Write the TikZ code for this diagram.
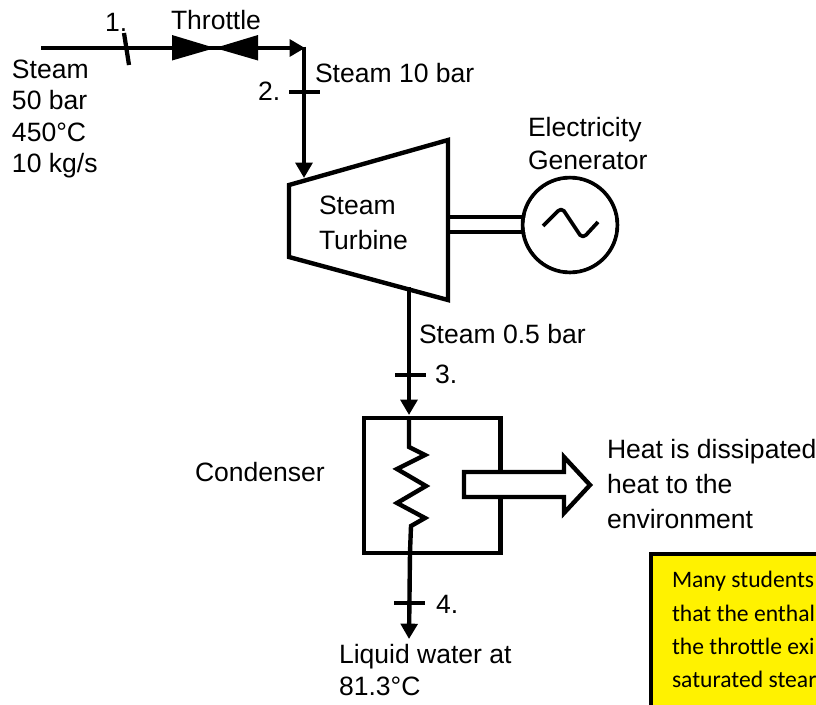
\documentclass[tikz,border=0pt]{standalone}
\usepackage{fontspec}
\setmainfont{Liberation Sans}
\newfontfamily\notefont{Carlito}
\usetikzlibrary{arrows.meta}
\tikzset{
  lbl/.style={anchor=base west,inner sep=0pt,outer sep=0pt,font=\fontsize{19.9}{24}\selectfont},
  note/.style={anchor=base west,inner sep=0pt,outer sep=0pt,font=\notefont\fontsize{17.7}{21}\selectfont},
  pipe/.style={line width=3.3pt,line join=miter},
  flow/.style={pipe,-{Triangle[length=11.5pt,width=12.5pt]}},
  tick/.style={line width=3.2pt},
  outline/.style={line width=3.3pt,line join=miter},
}
\begin{document}
\begin{tikzpicture}[x=0.75pt,y=-0.75pt]
\useasboundingbox (0,0) rectangle (816,704);
\clip (0,0) rectangle (816,704);
% named points
\coordinate (in) at (41,48);
\coordinate (corner) at (305,48);
\coordinate (vtop) at (304,46.5);
\coordinate (tin) at (304,178);
\coordinate (t1) at (289,185);
\coordinate (t2) at (448,140);
\coordinate (t3) at (448,300);
\coordinate (t4) at (289,257);
\coordinate (tout) at (409,287);
\coordinate (cin) at (409,415);
\coordinate (cout) at (410,552);
\coordinate (end) at (409,639);
% yellow note
\draw[line width=2.4pt,fill=yellow] (651,554) rectangle (830,720);
\node[note] (n1) at (672,587) {Many students};
\node[note] (n2) at (672,621) {that the enthal};
\node[note] (n3) at (672,654) {the throttle exi};
\node[note] (n4) at (672,687) {saturated stear};
% throttle line
\draw[flow] (in) -- (corner);
\draw[pipe] (vtop) -- (304,120);
\draw[flow] (304,100) -- (tin);
\fill (172,35) -- (215,48) -- (258,35) -- (258,60.5) -- (215,48) -- (172,60.5) -- cycle;
\draw[tick] (124,33) -- (129,65);
\draw[tick] (289,92) -- (320,92);
% turbine
\draw[outline] (t1) -- (t2) -- (t3) -- (t4) -- cycle;
% generator
\node[circle,draw,line width=2.9pt,minimum size=71pt,inner sep=0pt] (gen) at (570,225) {};
\draw[pipe] (448,217) -- (gen.center |- 0,217) ;
\draw[pipe] (448,232) -- (gen.center |- 0,232) ;
\node[circle,fill=white,minimum size=68pt,inner sep=0pt] at (gen.center) {};
\draw[line width=2.8pt,line join=round] (543,226) -- (558,211) .. controls (560,209) and (562,209) .. (564,211) -- (580,235) .. controls (582,237) and (584,237) .. (586,235) -- (598,222);
% turbine exit
\draw[flow] (tout) -- (cin);
\draw[tick] (395,375) -- (426,375);
% condenser
\node[draw,line width=3.3pt,minimum width=102.4pt,minimum height=101.2pt,inner sep=0pt] (cond) at (432.4,485.5) {};
\draw[line width=3.3pt,line join=miter] (409,416) -- (409,447) -- (425,455) -- (397,469) -- (426,486) -- (397,503) -- (425,518) -- (411,526) -- (cout);
\draw[flow] (cout) -- (end);
\draw[tick] (394,603) -- (425,603);
% heat arrow
\draw[outline,fill=white] (464,472) -- (564,472) -- (564,457) -- (590,485) -- (564,513) -- (564,497) -- (464,497) -- cycle;
% labels
\node[lbl] (a) at (105,31) {1.};
\node[lbl] (b) at (171,29) {Throttle};
\node[lbl] (c) at (12,78) {Steam};
\node[lbl] (d) at (12,109) {50 bar};
\node[lbl] (e) at (12,141) {450°C};
\node[lbl] (f) at (12,172) {10 kg/s};
\node[lbl] (g) at (258,100) {2.};
\node[lbl] (h) at (315,82) {Steam 10 bar};
\node[lbl] (i) at (528,136) {Electricity};
\node[lbl] (j) at (528,169) {Generator};
\node[lbl] (k) at (319,214) {Steam};
\node[lbl] (l) at (319,249) {Turbine};
\node[lbl] (m) at (419,343) {Steam 0.5 bar};
\node[lbl] (o) at (435,383) {3.};
\node[lbl] (p) at (195,481) {Condenser};
\node[lbl] (q) at (607,458) {Heat is dissipated};
\node[lbl] (r) at (607,493) {heat to the};
\node[lbl] (s) at (607,528) {environment};
\node[lbl] (t) at (436,613) {4.};
\node[lbl] (u) at (339,663) {Liquid water at};
\node[lbl] (v) at (339,695) {81.3°C};
\end{tikzpicture}
\end{document}
